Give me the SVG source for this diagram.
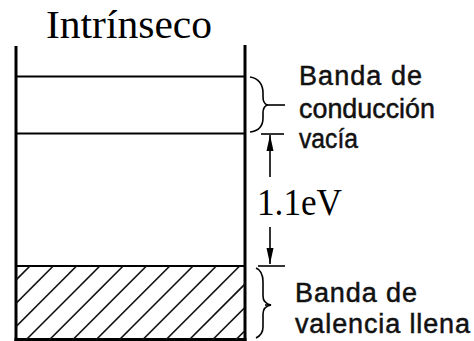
<svg xmlns="http://www.w3.org/2000/svg" width="474" height="341" viewBox="0 0 474 341">
<style>
.frame{stroke:#000;stroke-width:3;fill:none}
.band{stroke:#000;stroke-width:2;fill:none}
.hatch{stroke:#111;stroke-width:1.6}
.thin{stroke:#000;stroke-width:1.6;fill:none}
.serif{font-family:"Liberation Serif","Times New Roman",serif;fill:#000}
.sans{font-family:"Liberation Sans",Arial,sans-serif;font-size:27px;fill:#111;stroke:#111;stroke-width:0.5}
</style>
<defs>
<clipPath id="vclip"><rect x="16" y="266" width="229" height="74"/></clipPath>
<marker id="ah" viewBox="0 0 16 8" refX="16" refY="4" markerWidth="16" markerHeight="8" markerUnits="userSpaceOnUse" orient="auto">
<path d="M0,0.5 L16,4 L0,7.5 Z" fill="#000"/>
</marker>
</defs>
<rect width="474" height="341" fill="#fff"/>
<g id="title"><text class="serif" x="46" y="38" font-size="39" textLength="166" lengthAdjust="spacingAndGlyphs">Intrínseco</text></g>
<g id="frame">
<line class="frame" x1="16" y1="46" x2="16" y2="341"/>
<line class="frame" x1="245" y1="45" x2="245" y2="341"/>
<line class="frame" x1="14.5" y1="339.5" x2="246.5" y2="339.5"/>
</g>
<g id="conduction-band">
<line class="band" x1="16" y1="76.5" x2="245" y2="76.5"/>
<line class="band" x1="16" y1="133.5" x2="245" y2="133.5"/>
</g>
<g id="valence-band">
<line class="band" x1="16" y1="266" x2="245" y2="266"/>
<g clip-path="url(#vclip)">
<line class="hatch" x1="30" y1="266" x2="-44" y2="340"/>
<line class="hatch" x1="53.3" y1="266" x2="-20.7" y2="340"/>
<line class="hatch" x1="76.6" y1="266" x2="2.6" y2="340"/>
<line class="hatch" x1="99.9" y1="266" x2="25.9" y2="340"/>
<line class="hatch" x1="123.2" y1="266" x2="49.2" y2="340"/>
<line class="hatch" x1="146.5" y1="266" x2="72.5" y2="340"/>
<line class="hatch" x1="169.8" y1="266" x2="95.8" y2="340"/>
<line class="hatch" x1="193.1" y1="266" x2="119.1" y2="340"/>
<line class="hatch" x1="216.4" y1="266" x2="142.4" y2="340"/>
<line class="hatch" x1="239.7" y1="266" x2="165.7" y2="340"/>
<line class="hatch" x1="263" y1="266" x2="189" y2="340"/>
<line class="hatch" x1="286.3" y1="266" x2="212.3" y2="340"/>
<line class="hatch" x1="309.6" y1="266" x2="235.6" y2="340"/>
</g>
</g>
<g id="labels">
<text class="sans" x="299" y="85" textLength="123" lengthAdjust="spacing">Banda de</text>
<text class="sans" x="299" y="118" textLength="136" lengthAdjust="spacingAndGlyphs">conducción</text>
<text class="sans" x="299" y="148" textLength="59" lengthAdjust="spacingAndGlyphs">vacía</text>
<text class="sans" x="295" y="302" textLength="122" lengthAdjust="spacing">Banda de</text>
<text class="sans" x="295" y="333" textLength="175" lengthAdjust="spacing">valencia llena</text>
<text class="serif" x="257" y="215" font-size="37" textLength="85" lengthAdjust="spacingAndGlyphs">1.1eV</text>
</g>
<g id="connectors">
<path class="thin" d="M250,77 C258,78 263,84 263,93 L263,97 C263,102 265,104 267,105 C265,106 263,108 263,113 L263,118 C263,127 258,131 250,132"/>
<line class="thin" x1="267" y1="105" x2="285" y2="105"/>
<line class="thin" x1="261" y1="134" x2="284" y2="134"/>
<line class="thin" x1="270" y1="177" x2="270" y2="135" marker-end="url(#ah)"/>
<line class="thin" x1="270" y1="227" x2="270" y2="264" marker-end="url(#ah)"/>
<line class="thin" x1="258" y1="266" x2="285" y2="266"/>
<path class="thin" d="M256,268 C261,270 263,275 263,282 L263,296 C263,301 266,304 271,305 C266,306 263,309 263,314 L263,327 C263,333 260,336 256,338"/>
<line class="thin" x1="265" y1="305" x2="271" y2="305"/>
</g>
</svg>
